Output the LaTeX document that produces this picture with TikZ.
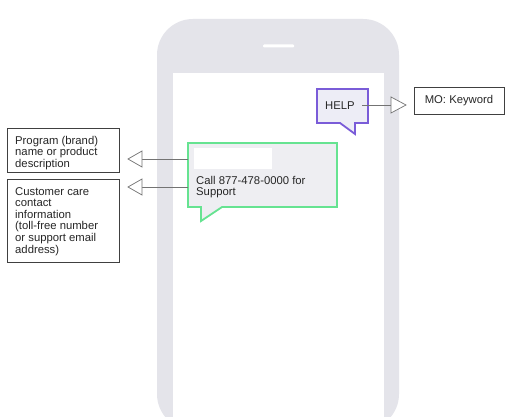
\documentclass[tikz,border=0pt]{standalone}
\usepackage{fontspec}
\usetikzlibrary{calc}
\setmainfont{Liberation Sans}
\begin{document}
\begin{tikzpicture}[x=1pt,y=-1pt,
  lbl/.style={font=\fontsize{11.3}{11.6}\selectfont, text=black!85, align=left, inner sep=0pt},
  infobox/.style={draw=black!75, line width=0.9pt, fill=white},
  conn/.style={draw=black!55, line width=0.6pt},
  tip/.style={draw=black!55, line width=0.7pt, fill=white}
]
\definecolor{phonegray}{HTML}{E4E4EA}
\definecolor{bubblefill}{HTML}{EEEEF2}
\definecolor{helpfill}{HTML}{EDEDF6}
\definecolor{purp}{HTML}{7A5CD8}
\definecolor{grn}{HTML}{66E391}
\useasboundingbox (0,0) rectangle (514,417);
\fill[white] (0,0) rectangle (514,417);
% phone
\fill[phonegray, rounded corners=36pt] (157,430) -- (157,19) -- (399,19) -- (399,430) -- cycle;
\fill[white] (173,73) rectangle (384,430);
\fill[white, rounded corners=1pt] (263,44.5) rectangle (294,47.5);
% HELP bubble
\draw[purp, line width=1.8pt, fill=helpfill, line join=miter]
  (317,89) -- (368,89) -- (368,123) -- (355,123) -- (355,134) -- (340,123) -- (317,123) -- cycle;
\node[lbl, anchor=center] (help) at (340,105.5) {HELP};
\coordinate (helpr) at (362,105);
% MO box
\node[infobox, minimum width=90pt, minimum height=27pt, font=\fontsize{11.3}{12}\selectfont, text=black!85] (mo) at (459,100.5) {MO: Keyword};
\coordinate (motip) at (406,105);
\coordinate (mobase) at (391,105);
\draw[conn] (helpr) -- (mobase);
\draw[tip] (mobase) ++(0,-8) -- (motip) -- ($(mobase)+(0,8)$) -- cycle;
% green bubble
\draw[grn, line width=1.8pt, fill=bubblefill, line join=miter]
  (188,143) -- (337,143) -- (337,207) -- (222,207) -- (201,221) -- (201,207) -- (188,207) -- cycle;
\fill[white] (194,148) rectangle (272,169);
\node[lbl, anchor=north west] (call) at (196,176) {Call 877-478-0000 for\\Support};
\coordinate (g1) at (188,159);
\coordinate (g2) at (188,187);
% left boxes
\node[infobox, minimum width=112pt, minimum height=44pt, anchor=north west] (b1) at (7,128) {};
\node[lbl, anchor=north west] (t1) at (15,136) {Program (brand)\\name or product\\description};
\node[infobox, minimum width=112pt, minimum height=83pt, anchor=north west] (b2) at (7,179) {};
\node[lbl, anchor=north west] (t2) at (15,187) {Customer care\\contact\\information\\(toll-free number\\or support email\\address)};
% arrows to left
\coordinate (a1) at (142,159);
\coordinate (a1t) at (128,159);
\draw[conn] (g1) -- (a1);
\draw[tip] (a1) ++(0,-8) -- (a1t) -- ($(a1)+(0,8)$) -- cycle;
\coordinate (a2) at (142,187);
\coordinate (a2t) at (128,187);
\draw[conn] (g2) -- (a2);
\draw[tip] (a2) ++(0,-8) -- (a2t) -- ($(a2)+(0,8)$) -- cycle;
\end{tikzpicture}
\end{document}
